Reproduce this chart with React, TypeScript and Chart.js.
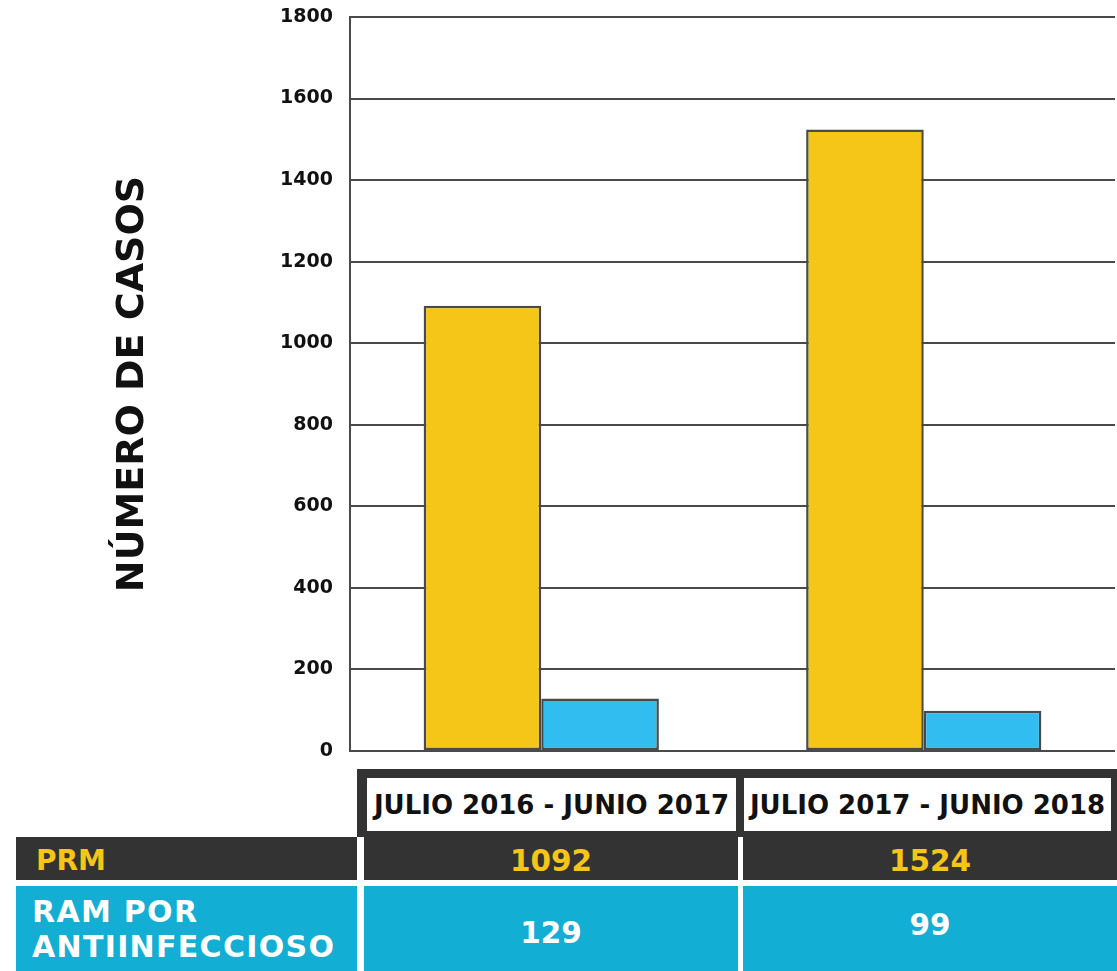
import React, { useEffect, useRef } from "react";
import { Chart, registerables } from "chart.js";

Chart.register(...registerables);

// Reporting periods (x categories / table columns)
const periods = ["JULIO 2016 - JUNIO 2017", "JULIO 2017 - JUNIO 2018"];
// Cases per period
const prmCases = [1092, 1524];
const ramCases = [129, 99];
// Row labels of the summary table
const prmLabel = "PRM";
const ramLabelLines = ["RAM POR", "ANTIINFECCIOSO"];
// Y axis
const yMin = 0;
const yMax = 1800;
const yStep = 200;
const yTitle = "NÚMERO DE CASOS";

const FONT = "'DejaVu Sans', 'Open Sans', sans-serif";
const YELLOW = "#F5C518";
const BLUE = "#31BDF0";
const DARK = "#333333";
const CYAN = "#12AED4";
const LINE = "#4a4a4a";

export default function App() {
  const canvasRef = useRef<HTMLCanvasElement | null>(null);

  useEffect(() => {
    const canvas = canvasRef.current;
    if (!canvas) return;
    const chart = new Chart(canvas, {
      type: "bar",
      data: {
        labels: periods,
        datasets: [
          {
            label: prmLabel,
            data: prmCases,
            backgroundColor: YELLOW,
            borderColor: LINE,
            borderWidth: 2.5,
            borderSkipped: false,
          },
          {
            label: ramLabelLines.join(" "),
            data: ramCases,
            backgroundColor: BLUE,
            borderColor: LINE,
            borderWidth: 2.5,
            borderSkipped: false,
          },
        ],
      },
      options: {
        responsive: false,
        animation: false,
        layout: { padding: { top: 0, right: 2, bottom: 0, left: 0 } },
        datasets: {
          bar: { categoryPercentage: 0.615, barPercentage: 1 },
        },
        plugins: {
          legend: { display: false },
          tooltip: { enabled: false },
        },
        scales: {
          x: {
            display: false,
            grid: { display: false },
          },
          y: {
            min: yMin,
            max: yMax,
            ticks: {
              stepSize: yStep,
              color: "#111111",
              padding: 17,
              font: { family: FONT, size: 19, weight: "bold" },
              callback: (v: any) => String(v),
            },
            grid: { color: LINE, lineWidth: 2, drawTicks: false },
            border: { display: true, color: LINE, width: 2 },
            title: {
              display: true,
              text: yTitle,
              color: "#111111",
              font: { family: FONT, size: 38, weight: "bold" },
              padding: { top: 110, bottom: 0 },
            },
            afterFit: (scale: any) => {
              scale.width = 350;
              scale.paddingTop = 17;
              scale.paddingBottom = 17;
            },
          },
        },
      },
    } as any);
    return () => chart.destroy();
  }, []);

  const colLeft = [364, 743];
  const colWidth = [374, 374];
  const headLeft = [367, 744];
  const headWidth = [369, 367];
  const ramShift = [4, -4];

  const cell = (extra: React.CSSProperties): React.CSSProperties => ({
    position: "absolute",
    display: "flex",
    alignItems: "center",
    boxSizing: "border-box",
    fontFamily: FONT,
    fontWeight: "bold",
    ...extra,
  });

  return (
    <div
      style={{
        position: "absolute",
        left: 0,
        top: 0,
        width: 1117,
        height: 971,
        background: "#ffffff",
        overflow: "hidden",
      }}
    >
      <canvas
        ref={canvasRef}
        width={1117}
        height={768}
        style={{ position: "absolute", left: 0, top: 0, width: 1117, height: 768 }}
      />

      {/* header frame with the period names */}
      <div
        style={{
          position: "absolute",
          left: 357,
          top: 769,
          width: 760,
          height: 68,
          background: DARK,
        }}
      />
      {periods.map((p, i) => (
        <div
          key={"h" + i}
          style={cell({
            left: headLeft[i],
            top: 778,
            width: headWidth[i],
            height: 53,
            background: "#ffffff",
            justifyContent: "center",
            color: "#111111",
            fontSize: 26,
            whiteSpace: "nowrap",
          })}
        >
          {p}
        </div>
      ))}

      {/* PRM row */}
      <div
        style={cell({
          left: 16,
          top: 837,
          width: 341,
          height: 43,
          background: DARK,
          color: YELLOW,
          fontSize: 28,
          paddingLeft: 20,
          paddingTop: 4,
        })}
      >
        {prmLabel}
      </div>
      {prmCases.map((v, i) => (
        <div
          key={"p" + i}
          style={cell({
            left: colLeft[i],
            top: 837,
            width: colWidth[i],
            height: 43,
            background: DARK,
            color: YELLOW,
            fontSize: 29.5,
            justifyContent: "center",
            paddingTop: 4,
          })}
        >
          {v}
        </div>
      ))}

      {/* RAM row */}
      <div
        style={cell({
          left: 16,
          top: 886,
          width: 341,
          height: 85,
          background: CYAN,
          color: "#ffffff",
          fontSize: 30,
          lineHeight: "35px",
          paddingLeft: 16,
          letterSpacing: 1.3,
        })}
      >
        <div>
          {ramLabelLines.map((l, i) => (
            <div key={i}>{l}</div>
          ))}
        </div>
      </div>
      {ramCases.map((v, i) => (
        <div
          key={"r" + i}
          style={cell({
            left: colLeft[i],
            top: 886,
            width: colWidth[i],
            height: 85,
            background: CYAN,
            color: "#ffffff",
            fontSize: 29.5,
            justifyContent: "center",
          })}
        >
          <span style={{ transform: `translateY(${ramShift[i]}px)` }}>{v}</span>
        </div>
      ))}
    </div>
  );
}
